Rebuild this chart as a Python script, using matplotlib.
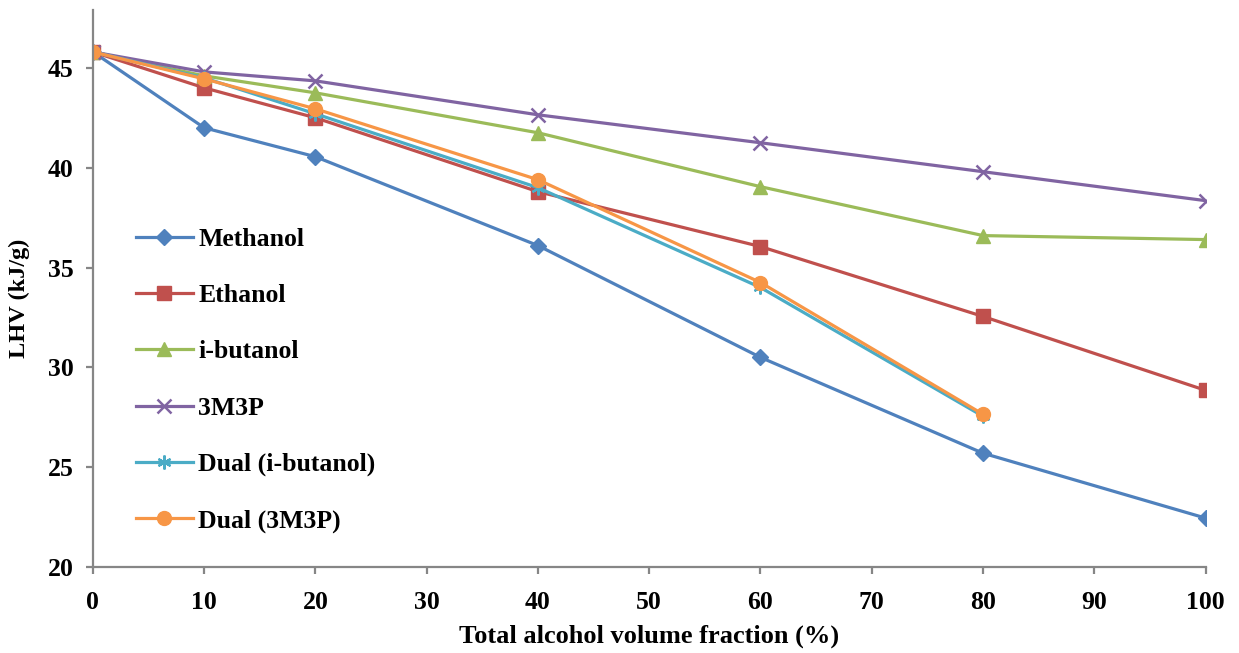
import matplotlib
matplotlib.use("Agg")
import matplotlib.pyplot as plt

plt.rcParams['font.family'] = ['Liberation Serif', 'DejaVu Serif']
plt.rcParams['font.weight'] = 'bold'

fraction = [0, 10, 20, 40, 60, 80, 100]
fraction_dual = [0, 10, 20, 40, 60, 80]

methanol = [45.8, 42.0, 40.55, 36.1, 30.5, 25.7, 22.45]
ethanol = [45.8, 44.0, 42.5, 38.8, 36.05, 32.55, 28.85]
i_butanol = [45.8, 44.6, 43.75, 41.75, 39.05, 36.6, 36.4]
m3p = [45.8, 44.8, 44.35, 42.65, 41.25, 39.8, 38.35]
dual_ibutanol = [45.8, 44.5, 42.7, 39.0, 34.0, 27.55]
dual_3m3p = [45.8, 44.45, 42.95, 39.4, 34.25, 27.65]

x_ticks = [0, 10, 20, 30, 40, 50, 60, 70, 80, 90, 100]
y_ticks = [20, 25, 30, 35, 40, 45]

fig = plt.figure(figsize=(12.39, 6.53), dpi=100)
ax = fig.add_axes([0.075, 0.1317, 0.898, 0.853])

lw = 2.3
ax.plot(fraction, methanol, color='#4F81BD', lw=lw, marker='D', ms=8, label='Methanol')
ax.plot(fraction, ethanol, color='#C0504D', lw=lw, marker='s', ms=9.5, label='Ethanol')
ax.plot(fraction, i_butanol, color='#9BBB59', lw=lw, marker='^', ms=10, label='i-butanol')
ax.plot(fraction, m3p, color='#8064A2', lw=lw, marker='x', ms=10, mew=1.8, label='3M3P')
ax.plot(fraction_dual, dual_ibutanol, color='#4BACC6', lw=lw, marker=(6, 2, 0), ms=10, mew=1.6,
        label='Dual (i-butanol)')
ax.plot(fraction_dual, dual_3m3p, color='#F79646', lw=lw, marker='o', ms=10, label='Dual (3M3P)')

ax.set_xlim(0, 100)
ax.set_ylim(20, 47.9)
ax.set_xticks(x_ticks)
ax.set_yticks(y_ticks)

for side in ('top', 'right'):
    ax.spines[side].set_visible(False)
for side in ('left', 'bottom'):
    ax.spines[side].set_color('#868686')
    ax.spines[side].set_linewidth(1.6)
ax.tick_params(direction='out', length=5, width=1.6, color='#868686', labelsize=18.5)
ax.tick_params(axis='x', pad=12)
ax.tick_params(axis='y', pad=9)
for lab in ax.get_xticklabels() + ax.get_yticklabels():
    lab.set_fontweight('bold')

ax.set_xlabel('Total alcohol volume fraction (%)', fontsize=19, fontweight='bold', labelpad=8)
ax.set_ylabel('LHV (kJ/g)', fontsize=17.5, fontweight='bold')
ax.yaxis.set_label_coords(-0.057, 0.483)

leg = ax.legend(loc='upper left', bbox_to_anchor=(0.018, 0.65), frameon=False,
                labelspacing=1.29, handlelength=2.2, handletextpad=0.22,
                prop={'weight': 'bold', 'size': 18.5})

fig.savefig('out.png', dpi=100)
